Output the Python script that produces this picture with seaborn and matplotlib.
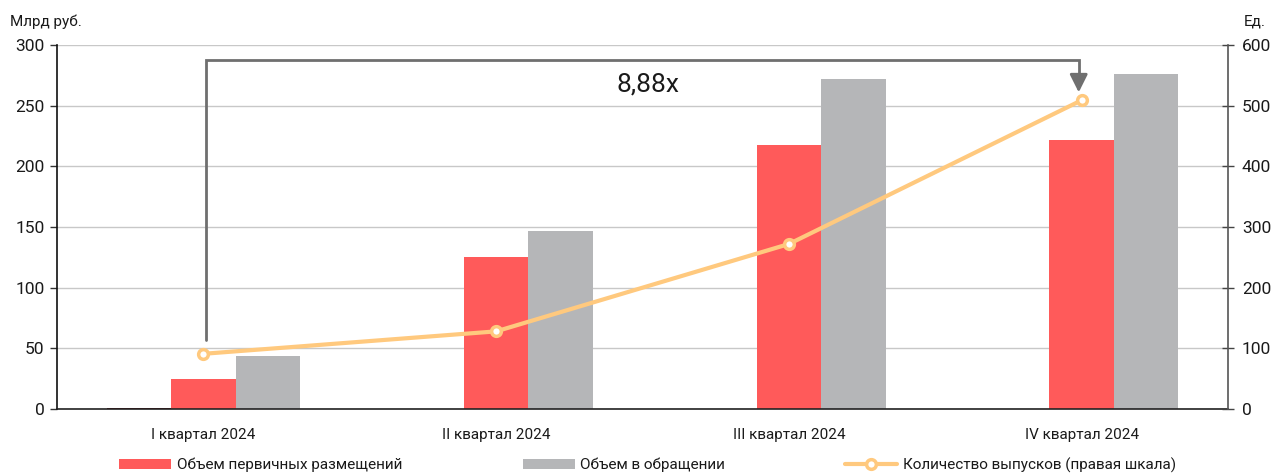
import numpy as np
import pandas as pd
import matplotlib
matplotlib.use("Agg")
import matplotlib.pyplot as plt
from matplotlib.lines import Line2D
from matplotlib.patches import Patch
import seaborn as sns

# --- data -------------------------------------------------------------
quarters = ["I квартал 2024", "II квартал 2024", "III квартал 2024", "IV квартал 2024"]
reserve_vol = [0.6, 0.0, 0.0, 0.0]          # unlabelled helper series
primary_vol = [25, 125, 218, 222]           # млрд руб.
outstanding_vol = [44, 147, 272, 276]       # млрд руб.
issues_count = [91, 128, 272, 509]          # ед. (правая шкала)

series_names = ["Резерв", "Объем первичных размещений", "Объем в обращении"]
growth_label = "8,88x"

# --- style ------------------------------------------------------------
sns.set_theme(style="white")
plt.rcParams["font.family"] = ["Roboto", "DejaVu Sans"]

RED = "#FF5A5A"
GREY = "#B5B6B8"
DARK_RED = "#5C0A10"
ORANGE = "#FFC97E"
TEXT = "#1a1a1a"

df = pd.DataFrame({
    "quarter": quarters * 3,
    "series": np.repeat(series_names, len(quarters)),
    "value": reserve_vol + primary_vol + outstanding_vol,
})

fig = plt.figure(figsize=(12.76, 4.74), dpi=100)
ax = fig.add_axes([0.0447, 0.1371, 0.9177, 0.7679])

sns.barplot(
    data=df, x="quarter", y="value", hue="series", order=quarters,
    hue_order=series_names, palette=[DARK_RED, RED, GREY],
    width=0.66, saturation=1, linewidth=0, legend=False, ax=ax,
)

ax.set_ylim(0, 300)
ax.set_yticks(np.arange(0, 301, 50))
ax.set_xlim(-0.5, len(quarters) - 0.5)
ax.set_xlabel("")
ax.set_ylabel("")
ax.yaxis.grid(True, color="#C8C8C8", linewidth=1)
ax.set_axisbelow(True)

# category labels sit at group centres, tick marks at the boundaries
ax.set_xticks(np.arange(len(quarters)))
ax.set_xticklabels(quarters, fontsize=11, color=TEXT)
ax.tick_params(axis="x", length=0, pad=14)
ax.set_xticks(np.arange(-0.5, len(quarters) + 0.5, 1), minor=True)
ax.tick_params(axis="x", which="minor", length=6, width=1, color="#333333", direction="out")
ax.tick_params(axis="y", labelsize=12.5, labelcolor=TEXT, length=5, width=1,
               color="#333333", direction="out", left=True, pad=4)

for side in ("top", "right"):
    ax.spines[side].set_visible(False)
ax.spines["left"].set_color("#111111")
ax.spines["left"].set_linewidth(1.2)
ax.spines["bottom"].set_color("#222222")
ax.spines["bottom"].set_linewidth(1.2)

# --- issue count on the right axis ------------------------------------
ax2 = ax.twinx()
sns.pointplot(
    x=quarters, y=issues_count, order=quarters, color=ORANGE, ax=ax2,
    markers="o", linestyles="-", linewidth=3, markersize=7,
    markerfacecolor="white", markeredgecolor=ORANGE, markeredgewidth=2.5,
)
ax2.set_ylim(0, 600)
ax2.set_yticks(np.arange(0, 601, 100))
ax2.set_xlim(-0.5, len(quarters) - 0.5)
ax2.set_ylabel("")
ax2.tick_params(axis="y", labelsize=12.5, labelcolor=TEXT, length=8, width=1,
                color="#444444", direction="inout", right=True, pad=6)
for side in ("top", "left", "bottom"):
    ax2.spines[side].set_visible(False)
ax2.spines["right"].set_color("#555555")
ax2.spines["right"].set_linewidth(1.2)

# --- growth bracket from Q1 to Q4 -------------------------------------
br_color = "#6F6F6F"
x0, x1 = 0.01, 2.99
y_low, y_top, y_tip = 57, 287.5, 261
ax.plot([x0, x0, x1, x1], [y_low, y_top, y_top, y_tip + 8],
        color=br_color, linewidth=2, solid_joinstyle="miter", clip_on=False, zorder=5)
ax.annotate("", xy=(x1, y_tip), xytext=(x1, y_tip + 9),
            arrowprops=dict(arrowstyle="-|>,head_length=0.9,head_width=0.45",
                            color=br_color, lw=2, shrinkA=0, shrinkB=0), zorder=5)
ax.text(1.52, 267.5, growth_label, ha="center", va="center",
        fontsize=19, color=TEXT, zorder=6)

# --- axis unit captions -----------------------------------------------
fig.text(10 / 1276, 1 - 22 / 474, "Млрд руб.", fontsize=11, color=TEXT, va="center", ha="left")
fig.text(1266 / 1276, 1 - 22 / 474, "Ед.", fontsize=11, color=TEXT, va="center", ha="right")

# --- legend -----------------------------------------------------------
handles = [
    Patch(facecolor=RED, edgecolor="none"),
    Patch(facecolor=GREY, edgecolor="none"),
    Line2D([0], [0], color=ORANGE, linewidth=3, marker="o", markersize=7,
           markerfacecolor="white", markeredgecolor=ORANGE, markeredgewidth=2.5),
]
labels = ["Объем первичных размещений", "Объем в обращении", "Количество выпусков (правая шкала)"]
fig.legend(handles, labels, loc="center", bbox_to_anchor=(0.5075, 1 - 465 / 474),
           ncol=3, frameon=False, fontsize=11, handlelength=3.4, handleheight=0.7,
           handletextpad=0.35, columnspacing=7.9, labelcolor=TEXT)

fig.savefig("out.png", dpi=100)
